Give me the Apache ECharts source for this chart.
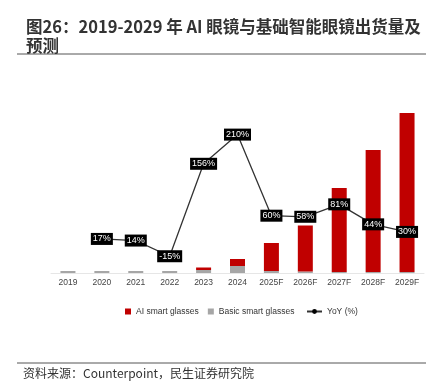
<!DOCTYPE html>
<html><head><meta charset="utf-8">
<script src="https://cdn.jsdelivr.net/npm/echarts@6/dist/echarts.min.js"></script>
<style>html,body{margin:0;padding:0;background:#fff}#c{width:443px;height:384px}</style>
</head><body><div id="c"></div>
<script>
const categories = ['2019','2020','2021','2022','2023','2024','2025F','2026F','2027F','2028F','2029F'];
const aiGlasses = [0, 0, 0, 0, 2.5, 7, 28, 46, 84, 122, 159];
const basicGlasses = [2, 2, 2, 2, 3, 7, 2, 1.5, 1, 1, 1];
const yoy = [null, 17, 14, -15, 156, 210, 60, 58, 81, 44, 30];

const chart = echarts.init(document.getElementById('c'), null, {renderer:'canvas'});
const font = '"Noto Sans CJK SC","Noto Sans",sans-serif';
const sans = '"Liberation Sans",Arial,sans-serif';
chart.setOption({
  animation:false,
  backgroundColor:'#fff',
  title:{text:'图26：2019-2029 年 AI 眼镜与基础智能眼镜出货量及\n预测', left:21, top:12,
    textStyle:{fontFamily:font, fontSize:16.5, fontWeight:'bold', color:'#333', lineHeight:19}},
  graphic:[
    {type:'line', shape:{x1:17,y1:54,x2:426,y2:54}, style:{stroke:'#555', lineWidth:1}},
    {type:'line', shape:{x1:17,y1:363,x2:426,y2:363}, style:{stroke:'#555', lineWidth:1}},
    {type:'text', left:23, top:367, style:{text:'资料来源：Counterpoint，民生证券研究院', fontFamily:font, fontSize:12, fill:'#333'}}
  ],
  legend:[
    {top:302, left:120, itemGap:9, itemWidth:6, itemHeight:6,
     textStyle:{fontFamily:sans, fontSize:8.5, color:'#333'},
     data:[{name:'AI smart glasses', icon:'rect'},{name:'Basic smart glasses', icon:'rect'}]},
    {top:302, left:301, itemWidth:15, itemHeight:6,
     textStyle:{fontFamily:sans, fontSize:8.5, color:'#333'},
     data:[{name:'YoY (%)'}]}
  ],
  grid:{left:51, right:19, top:100, bottom:111},
  xAxis:{type:'category', data:categories,
    axisLine:{lineStyle:{color:'#e6e6e6'}}, axisTick:{show:false},
    axisLabel:{fontFamily:sans, fontSize:8.5, color:'#444', margin:5}},
  yAxis:[
    {type:'value', min:0, max:173, show:false, splitLine:{show:false}},
    {type:'value', min:-46, max:274, show:false, splitLine:{show:false}}
  ],
  series:[
    {name:'Basic smart glasses', type:'bar', stack:'s', data:basicGlasses, barWidth:15, itemStyle:{color:'#a6a6a6'}},
    {name:'AI smart glasses', type:'bar', stack:'s', data:aiGlasses, barWidth:15, itemStyle:{color:'#c00000'}},
    {name:'YoY (%)', type:'line', yAxisIndex:1, data:yoy, symbol:'circle', symbolSize:5,
      itemStyle:{color:'#000'}, lineStyle:{color:'#333', width:1.3},
      label:{show:true, position:'inside', formatter:p=>p.value+'%', backgroundColor:'#000', color:'#fff',
        fontFamily:sans, fontSize:9, padding:[2,2,1,2]},
      z:5}
  ]
});
</script></body></html>
